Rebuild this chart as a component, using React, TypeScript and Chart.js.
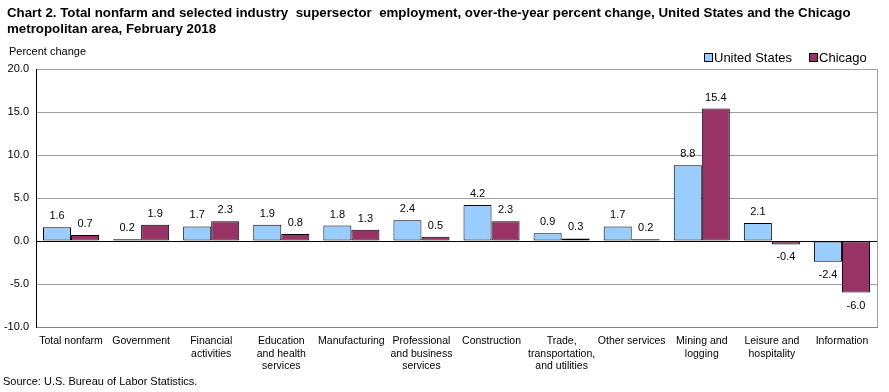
import React, { useEffect, useRef } from "react";
import { Chart, registerables } from "chart.js";

Chart.register(...registerables);

const categories: (string | string[])[] = [
  "Total nonfarm",
  "Government",
  ["Financial", "activities"],
  ["Education", "and health", "services"],
  "Manufacturing",
  ["Professional", "and business", "services"],
  "Construction",
  ["Trade,", "transportation,", "and utilities"],
  "Other services",
  ["Mining and", "logging"],
  ["Leisure and", "hospitality"],
  "Information",
];
const unitedStates = [1.6, 0.2, 1.7, 1.9, 1.8, 2.4, 4.2, 0.9, 1.7, 8.8, 2.1, -2.4];
const chicago = [0.7, 1.9, 2.3, 0.8, 1.3, 0.5, 2.3, 0.3, 0.2, 15.4, -0.4, -6.0];
const seriesNames = ["United States", "Chicago"];
const yMin = -10;
const yMax = 20;
const yStep = 5;
const titleLines = [
  "Chart 2. Total nonfarm and selected industry  supersector  employment, over-the-year percent change, United States and the Chicago",
  "metropolitan area, February 2018",
];
const yAxisTitle = "Percent change";
const sourceText = "Source: U.S. Bureau of Labor Statistics.";

const FONT = "'Liberation Sans', Arial, sans-serif";

const decorPlugin = {
  id: "decor",
  afterDatasetsDraw(chart: any) {
    const ctx = chart.ctx as CanvasRenderingContext2D;
    const area = chart.chartArea;
    ctx.save();
    // right border
    ctx.strokeStyle = "#a0a0a0";
    ctx.lineWidth = 1;
    ctx.beginPath();
    ctx.moveTo(Math.round(area.right) + 0.5, area.top);
    ctx.lineTo(Math.round(area.right) + 0.5, area.bottom);
    ctx.stroke();
    // zero line
    const y0 = Math.round(chart.scales.y.getPixelForValue(0)) + 0.5;
    ctx.strokeStyle = "#000";
    ctx.beginPath();
    ctx.moveTo(area.left, y0);
    ctx.lineTo(area.right, y0);
    ctx.stroke();

    // value labels
    ctx.fillStyle = "#000";
    ctx.font = `11px ${FONT}`;
    ctx.textAlign = "center";
    ctx.textBaseline = "middle";
    chart.data.datasets.forEach((ds: any, di: number) => {
      const meta = chart.getDatasetMeta(di);
      meta.data.forEach((el: any, i: number) => {
        const v = ds.data[i] as number;
        const y = v >= 0 ? el.y - 11 : el.y + 13;
        ctx.fillText(v.toFixed(1), el.x, y);
      });
    });

    // title
    ctx.textAlign = "left";
    ctx.font = `bold 13.3px ${FONT}`;
    titleLines.forEach((t, i) => ctx.fillText(t, 7, 13.5 + i * 16));
    ctx.font = `11px ${FONT}`;
    ctx.fillText(yAxisTitle, 9, 52);
    ctx.fillText(sourceText, 3, 382);

    // legend
    ctx.font = `13px ${FONT}`;
    let x = 704;
    const ly = 58;
    chart.data.datasets.forEach((ds: any) => {
      ctx.fillStyle = ds.backgroundColor;
      ctx.fillRect(x + 0.5, ly - 4.5, 8, 8);
      ctx.strokeStyle = "#000";
      ctx.strokeRect(x + 0.5, ly - 4.5, 8, 8);
      ctx.fillStyle = "#000";
      ctx.fillText(ds.label, x + 10, ly);
      x += 10 + ctx.measureText(ds.label).width + 17;
    });
    ctx.restore();
  },
};

export default function App() {
  const ref = useRef<HTMLCanvasElement>(null);
  useEffect(() => {
    document.body.style.margin = "0";
    const chart = new Chart(ref.current!, {
      type: "bar",
      data: {
        labels: categories,
        datasets: [
          {
            label: seriesNames[0],
            data: unitedStates,
            backgroundColor: "#99ccff",
            borderColor: "#000",
            borderWidth: 1,
            borderSkipped: false,
            categoryPercentage: 0.8,
            barPercentage: 1,
          },
          {
            label: seriesNames[1],
            data: chicago,
            backgroundColor: "#993366",
            borderColor: "#000",
            borderWidth: 1,
            borderSkipped: false,
            categoryPercentage: 0.8,
            barPercentage: 1,
          },
        ],
      },
      options: {
        responsive: false,
        animation: false,
        devicePixelRatio: 1,
        layout: { padding: { top: 69, right: 12, left: 0, bottom: 0 } },
        plugins: {
          legend: { display: false },
          tooltip: { enabled: false },
          title: { display: false },
        },
        scales: {
          x: {
            grid: { display: false, drawTicks: false },
            border: { color: "#808080" },
            ticks: {
              color: "#000",
              font: { family: FONT, size: 10.5 },
              maxRotation: 0,
              autoSkip: false,
              padding: 8,
            },
            afterFit: (s: any) => {
              s.height = 65;
            },
          },
          y: {
            min: yMin,
            max: yMax,
            grid: { color: "#a0a0a0", drawTicks: false },
            border: { color: "#000" },
            ticks: {
              stepSize: yStep,
              color: "#000",
              font: { family: FONT, size: 11 },
              padding: 7,
              callback: (v: any) => Number(v).toFixed(1),
            },
            afterFit: (s: any) => {
              s.width = 36;
            },
          },
        },
      },
      plugins: [decorPlugin],
    });
    return () => chart.destroy();
  }, []);
  return <canvas ref={ref} width={889} height={392} style={{ display: "block" }} />;
}
